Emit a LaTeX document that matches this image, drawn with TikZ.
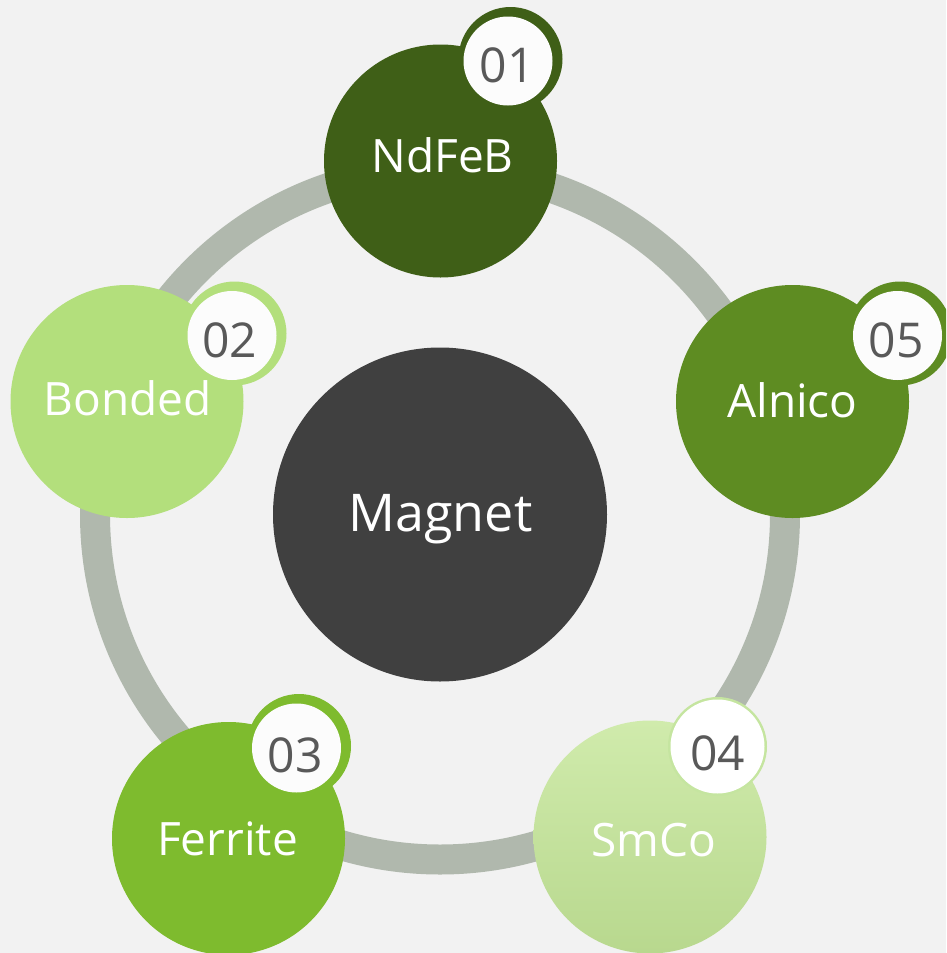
\documentclass[tikz,border=0pt]{standalone}
\usepackage{fontspec}
\setmainfont{Open Sans}
\definecolor{bg}{HTML}{F2F2F2}
\definecolor{ringcol}{HTML}{B0B8AD}
\definecolor{magnetcol}{HTML}{404040}
\definecolor{ndfebcol}{HTML}{3F5F17}
\definecolor{alnicocol}{HTML}{5E8C22}
\definecolor{ferritecol}{HTML}{7EBB2E}
\definecolor{bondedcol}{HTML}{B3DF7C}
\definecolor{smcotop}{HTML}{D0EBAC}
\definecolor{smcomid}{HTML}{CCE8A6}
\definecolor{smcobot}{HTML}{B8D88E}
\definecolor{smcoring}{HTML}{C5E5A0}
\definecolor{badgewhite}{HTML}{FCFCFC}
\definecolor{numgray}{HTML}{595959}
\begin{document}
\begin{tikzpicture}[x=1pt,y=-1pt,
  bubble/.style={circle, minimum size=233pt, inner sep=0pt, outer sep=0pt},
  itemlabel/.style={anchor=base, text=white, font=\fontsize{46}{55}\selectfont, inner sep=0pt},
  numtxt/.style={anchor=base, text=numgray, font=\fontsize{48}{58}\selectfont, inner sep=0pt},
  badgering/.style={circle, fill=#1, minimum size=104pt, inner sep=0pt},
  badgewhite/.style={circle, fill=badgewhite, minimum size=89pt, inner sep=0pt},
]
\useasboundingbox (0,0) rectangle (946,953);
\clip (0,0) rectangle (946,953);
\fill[bg] (0,0) rectangle (946,953);
% ring
\coordinate (hub) at (440,514.5);
\draw[ringcol, line width=30pt] (hub) circle (345pt);
% centre
\node[circle, fill=magnetcol, minimum size=334pt, inner sep=0pt] (magnet) at (hub) {};
\node[anchor=base, text=white, font=\fontsize{52}{62}\selectfont, inner sep=0pt] (magnetL) at (440.5,531) {Magnet};
% bubbles
\node[bubble, fill=ndfebcol] (ndfeb) at (440.5,161) {};
\node[bubble, fill=alnicocol] (alnico) at (792.5,401.5) {};
\node[bubble, top color=smcotop, middle color=smcomid, bottom color=smcobot] (smco) at (650,837) {};
\node[bubble, fill=ferritecol] (ferrite) at (228.5,838.5) {};
\node[bubble, fill=bondedcol] (bonded) at (127,401.5) {};
% labels
\node[itemlabel] (ndfebL) at (442.5,172) {NdFeB};
\node[itemlabel] (alnicoL) at (792.5,417) {Alnico};
\node[itemlabel] (smcoL) at (653.5,856) {SmCo};
\node[itemlabel] (ferriteL) at (227.5,855) {Ferrite};
\node[itemlabel] (bondedL) at (127.5,415) {Bonded};
% badges
\node[badgering=ndfebcol] (b1r) at (510.5,59) {};
\node[badgewhite] (b1) at (508,61) {};
\node[badgering=bondedcol] (b2r) at (234.5,333.5) {};
\node[badgewhite] (b2) at (232,335.5) {};
\node[badgering=ferritecol] (b3r) at (299,746) {};
\node[badgewhite] (b3) at (296.5,748) {};
\node[circle, fill=smcoring, minimum size=99pt, inner sep=0pt] (b4r) at (717.5,746.5) {};
\node[circle, fill=white, minimum size=94pt, inner sep=0pt] (b4) at (717.5,746.5) {};
\node[badgering=alnicocol] (b5r) at (900,333.5) {};
\node[badgewhite] (b5) at (897.5,335.5) {};
% numbers
\node[numtxt] (n1) at (507,82) {01};
\node[numtxt] (n2) at (229.5,357) {02};
\node[numtxt] (n3) at (295,772) {03};
\node[numtxt] (n4) at (717.5,770) {04};
\node[numtxt] (n5) at (896,357) {05};
\end{tikzpicture}
\end{document}
